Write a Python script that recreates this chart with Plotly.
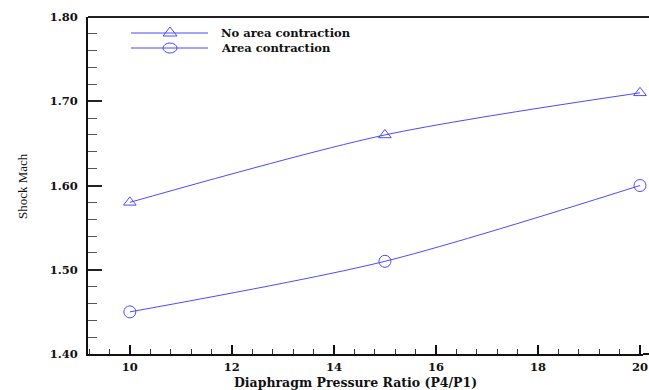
import plotly.graph_objects as go

pressure_ratio = [10, 15, 20]
mach_no_contraction = [1.58, 1.66, 1.71]
mach_contraction = [1.45, 1.51, 1.60]
series_names = ["No area contraction", "Area contraction"]
y_ticks = [1.40, 1.50, 1.60, 1.70, 1.80]
y_ticklabels = ["1.40", "1.50", "1.60", "1.70", "1.80"]
x_ticks = [10, 12, 14, 16, 18, 20]

BLUE = "#4b4bff"
SERIF = "DejaVu Serif"
W, H = 649, 390
L, R, T, B = 88, 6, 17, 36
pw, ph = W - L - R, H - T - B
x_end = 10 + (W - R - 130) / 51.0

fig = go.Figure()
fig.add_trace(go.Scatter(x=pressure_ratio, y=mach_no_contraction, mode="lines+markers",
                         line=dict(color=BLUE, width=1, shape="spline", smoothing=0.8),
                         marker=dict(symbol="triangle-up-open", size=11, color=BLUE, line=dict(width=1)),
                         name=series_names[0], showlegend=False, cliponaxis=False))
fig.add_trace(go.Scatter(x=pressure_ratio, y=mach_contraction, mode="lines+markers",
                         line=dict(color=BLUE, width=1, shape="spline", smoothing=0.8),
                         marker=dict(symbol="circle-open", size=12, color=BLUE, line=dict(width=1)),
                         name=series_names[1], showlegend=False, cliponaxis=False))

def px(x):
    return (x - L) / pw

def py(y):
    return 1 - (y - T) / ph

shapes = [dict(type="line", xref="paper", yref="paper", x0=0, x1=px(W), y0=1, y1=1,
               line=dict(color="#222", width=2)),
          dict(type="line", xref="paper", yref="paper", x0=1, x1=px(W), y0=0, y1=0,
               line=dict(color="#111", width=2))]
ann = []
# custom legend
for i, (yy, name) in enumerate([(33, series_names[0]), (48, series_names[1])]):
    shapes.append(dict(type="line", xref="paper", yref="paper", x0=px(131), x1=px(208),
                       y0=py(yy), y1=py(yy), line=dict(color=BLUE, width=1)))
    if i == 0:
        shapes.append(dict(type="path", xref="paper", yref="paper", xsizemode="pixel", ysizemode="pixel",
                           xanchor=px(170), yanchor=py(yy),
                           path="M -7 -3 L 7 -3 L 0 6 Z", line=dict(color=BLUE, width=1),
                           fillcolor="rgba(0,0,0,0)"))
    else:
        shapes.append(dict(type="circle", xref="paper", yref="paper", xsizemode="pixel", ysizemode="pixel",
                           xanchor=px(170), yanchor=py(yy), x0=-7, x1=7, y0=-5, y1=5,
                           line=dict(color=BLUE, width=1)))
    ann.append(dict(xref="paper", yref="paper", x=px(219), y=py(yy), xanchor="left", yanchor="middle",
                    text="<b>%s</b>" % name, showarrow=False,
                    font=dict(family=SERIF, size=11.5, color="#111")))

ann.append(dict(xref="paper", yref="paper", x=px(355), y=py(382), xanchor="center", yanchor="middle",
                text="<b>Diaphragm Pressure Ratio (P4/P1)</b>", showarrow=False,
                font=dict(family=SERIF, size=12.5, color="#111")))
ann.append(dict(xref="paper", yref="paper", x=px(22), y=py(186), xanchor="center", yanchor="middle",
                text="Shock Mach", textangle=-90, showarrow=False,
                font=dict(family="Liberation Serif", size=13, color="#111")))

fig.update_layout(
    width=W, height=H,
    margin=dict(l=L, r=R, t=T, b=B, autoexpand=False),
    plot_bgcolor="white", paper_bgcolor="white",
    shapes=shapes, annotations=ann,
    xaxis=dict(range=[9.18, x_end], tickvals=x_ticks, ticktext=[str(v) for v in x_ticks],
               ticks="inside", ticklen=9, tickwidth=2, tickcolor="#111",
               minor=dict(ticks="inside", ticklen=5, tickwidth=1, tickcolor="#333", dtick=0.4, tick0=10),
               showline=True, linecolor="#111", linewidth=2, mirror=False,
               showgrid=False, zeroline=False, ticklabelstandoff=1, automargin=False,
               tickfont=dict(family=SERIF, size=11.5, color="#111", weight="bold")),
    yaxis=dict(range=[1.40, 1.80], tickvals=y_ticks, ticktext=y_ticklabels,
               ticks="inside", ticklen=14, tickwidth=2, tickcolor="#222",
               minor=dict(ticks="inside", ticklen=9, tickwidth=1, tickcolor="#555", dtick=0.02, tick0=1.4,
                          showgrid=False),
               showline=True, linecolor="#111", linewidth=2, mirror=False,
               showgrid=False, zeroline=False, ticklabelstandoff=6, automargin=False,
               tickfont=dict(family=SERIF, size=11.5, color="#111", weight="bold")),
)
fig.update_xaxes(minor_showgrid=False)

fig.write_html("out.html", config={"displayModeBar": False},
               post_script="document.body.style.margin='0';document.body.style.overflow='hidden';"
                           "document.documentElement.style.overflow='hidden';")
